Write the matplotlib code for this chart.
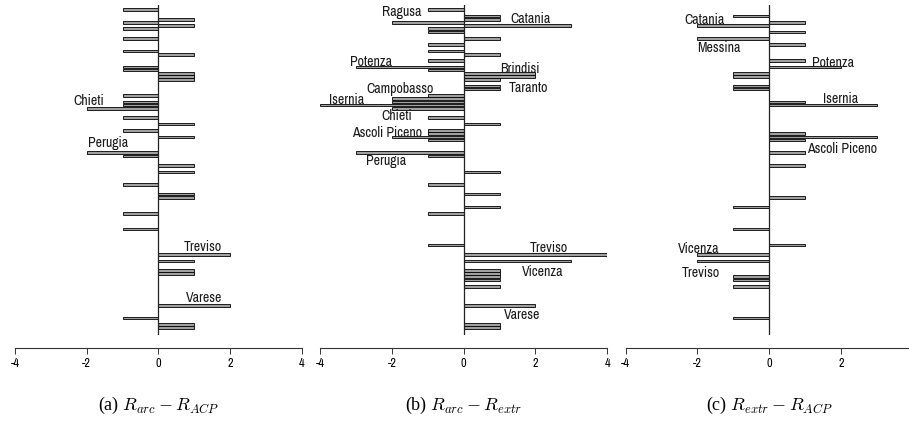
import matplotlib
matplotlib.use('Agg')
import matplotlib.pyplot as plt
from matplotlib import font_manager
from matplotlib.textpath import TextToPath
import numpy as np

# Rank class differences per province (same province order in every panel, top to bottom)
diff_arc_acp = [
    0, -1, 0, 0, 1, -1, 1, -1, 0, 0,
    -1, 0, 0, 0, -1, 1, 0, 0, 0, -1,
    -1, 1, 1, 1, 0, 0, 0, 0, -1, 0,
    -1, -1, -2, 0, 0, -1, 0, 1, 0, -1,
    0, 1, 0, 0, 0, 0, -2, -1, 0, 0,
    1, 0, 1, 0, 0, 0, -1, 0, 0, 1,
    1, 0, 0, 0, 0, -1, 0, 0, 0, 0,
    -1, 0, 0, 0, 0, 0, 0, 0, 2, 0,
    1, 0, 0, 1, 1, 0, 0, 0, 0, 0,
    0, 0, 0, 0, 2, 0, 0, 0, -1, 0,
    1, 1, 0,
]
diff_arc_extr = [
    0, -1, 0, 1, 1, -2, 3, -1, -1, 0,
    1, 0, -1, 0, -1, 1, 0, -1, 0, -3,
    -1, 2, 2, 1, 0, 1, 1, 0, -1, -2,
    -2, -4, -2, 0, 0, -1, 0, 1, 0, -1,
    -1, -2, -1, 0, 0, 0, -3, -1, 0, 0,
    0, 0, 1, 0, 0, 0, -1, 0, 0, 1,
    0, 0, 0, 1, 0, -1, 0, 0, 0, 0,
    0, 0, 0, 0, 0, -1, 0, 0, 4, 0,
    3, 0, 0, 1, 1, 1, 1, 0, 1, 0,
    0, 0, 0, 0, 2, 0, 0, 0, 0, 0,
    1, 1, 0,
]
diff_extr_acp = [
    0, 0, 0, -1, 0, 1, -2, 0, 1, 0,
    -2, 0, 1, 0, 0, 0, 0, 1, 0, 2,
    0, -1, -1, 0, 0, -1, -1, 0, 0, 0,
    1, 3, 0, 0, 0, 0, 0, 0, 0, 0,
    1, 3, 1, 0, 0, 0, 1, 0, 0, 0,
    1, 0, 0, 0, 0, 0, 0, 0, 0, 0,
    1, 0, 0, -1, 0, 0, 0, 0, 0, 0,
    -1, 0, 0, 0, 0, 1, 0, 0, -2, 0,
    -2, 0, 0, 0, 0, -1, -1, 0, -1, 0,
    0, 0, 0, 0, 0, 0, 0, 0, -1, 0,
    0, 0, 0,
]

captions = [
    r'(a) $R_{arc} - R_{ACP}$',
    r'(b) $R_{arc} - R_{extr}$',
    r'(c) $R_{extr} - R_{ACP}$',
]
tick_values = [-4, -2, 0, 2, 4]
tick_labels = ['-4', '-2', '0', '2', '4']

# Province name annotations: (name, x in rank units, baseline in bar slots, alignment)
labels_a = [
    ('Chieti', -1.51, 31.0, 'right'),
    ('Perugia', -1.97, 44.3, 'left'),
    ('Treviso', 1.77, 76.9, 'right'),
    ('Varese', 1.79, 93.0, 'right'),
]
labels_b = [
    ('Ragusa', -1.17, 3.1, 'right'),
    ('Catania', 2.42, 5.2, 'right'),
    ('Potenza', -2.0, 18.6, 'right'),
    ('Brindisi', 2.11, 20.8, 'right'),
    ('Taranto', 2.36, 26.8, 'right'),
    ('Campobasso', -0.85, 27.2, 'right'),
    ('Isernia', -3.77, 30.7, 'left'),
    ('Chieti', -1.45, 35.7, 'right'),
    ('Ascoli Piceno', -1.17, 41.0, 'right'),
    ('Perugia', -2.73, 49.8, 'left'),
    ('Treviso', 2.90, 77.1, 'right'),
    ('Vicenza', 2.79, 84.7, 'right'),
    ('Varese', 2.13, 98.4, 'right'),
]
labels_c = [
    ('Catania', -1.24, 5.5, 'right'),
    ('Messina', -2.01, 14.2, 'left'),
    ('Potenza', 1.19, 18.9, 'left'),
    ('Isernia', 2.47, 30.3, 'right'),
    ('Ascoli Piceno', 1.05, 46.2, 'left'),
    ('Vicenza', -1.39, 77.4, 'right'),
    ('Treviso', -1.36, 85.2, 'right'),
]

FIG_W, FIG_H = 909, 432
BAR_FILL = '#a0a0a0'

plt.rcParams['mathtext.fontset'] = 'cm'


def pick_narrow_font():
    """Find a narrow/condensed upright sans face, else plain Liberation Sans."""
    best, best_score = None, 0
    for f in font_manager.fontManager.ttflist:
        name = f.name.lower()
        fname = f.fname.lower()
        if f.style != 'normal' or 'mono' in name or 'serif' in name.replace('sans', ''):
            continue
        if str(f.weight) not in ('400', 'normal', 'regular', 'book'):
            continue
        if any(k in fname for k in ('bold', 'italic', 'light', 'medium', 'thin', 'black')):
            continue
        score = 0
        if 'narrow' in name or 'narrow' in fname:
            score = 4
        elif 'condensed' in name or 'condensed' in fname or f.stretch in ('condensed', 'semi-condensed'):
            score = 2
        if 'semicondensed' in fname or 'semi' in str(f.stretch):
            score -= 1
        if score > 0 and ('liberation' in name or 'roboto' in name):
            score += 1
        if score > best_score:
            best, best_score = f.fname, score
    if best is None:
        return font_manager.FontProperties(family='Liberation Sans')
    return font_manager.FontProperties(fname=best)


def fit_size(prop, text, width_px, base=10.0):
    """Font size that gives the text roughly the wanted pixel width."""
    p = prop.copy()
    p.set_size(base)
    w, _, _ = TextToPath().get_text_width_height_descent(text, p, ismath=False)
    return base * width_px / (w * 100 / 72)


LABEL_PROP = pick_narrow_font()
LABEL_SIZE = min(11.0, fit_size(LABEL_PROP, 'Treviso', 38))


def draw_panel(fig, left_px, values, labels, caption, ticks, tick_text):
    """One horizontal bar panel with its own x axis and caption."""
    unit_px = 35.86
    top_px, bottom_px = 5, 335
    rect = [left_px / FIG_W, 1 - bottom_px / FIG_H,
            8 * unit_px / FIG_W, (bottom_px - top_px) / FIG_H]
    ax = fig.add_axes(rect)

    vals = np.array(values, dtype=float)
    slots = np.arange(len(vals))
    nz = vals != 0
    ax.barh(slots[nz], vals[nz], height=0.83, color=BAR_FILL,
            edgecolor='black', linewidth=0.6)
    ax.axvline(0, color='#222222', linewidth=0.9)

    # slot i sits at 6.5 + 3.18 * i pixels from the top
    ax.set_ylim((bottom_px - 6.5) / 3.18, (top_px - 6.5) / 3.18)
    ax.set_xlim(-4, 4)

    for side in ['top', 'right', 'left']:
        ax.spines[side].set_visible(False)
    ax.spines['bottom'].set_position(('outward', 9.5))
    ax.spines['bottom'].set_bounds(-4, 4)
    ax.spines['bottom'].set_linewidth(0.8)
    ax.spines['bottom'].set_color('#333333')
    ax.set_yticks([])
    ax.set_xticks(ticks)
    ax.set_xticklabels(tick_text)
    tick_prop = LABEL_PROP.copy()
    tick_prop.set_size(LABEL_SIZE * 0.88)
    for lab in ax.get_xticklabels():
        lab.set_fontproperties(tick_prop)
    ax.tick_params(axis='x', direction='out', length=4.5, width=0.7,
                   pad=2.5, color='#333333')

    text_prop = LABEL_PROP.copy()
    text_prop.set_size(LABEL_SIZE)
    for name, x, y, ha in labels:
        ax.text(x, y, name, ha=ha, va='baseline', fontproperties=text_prop,
                color='#1a1a1a')

    zero_px = left_px + 4 * unit_px
    fig.text(zero_px / FIG_W, 1 - 405 / FIG_H, caption, ha='center',
             va='center', fontsize=13, family='Liberation Serif')
    return ax


def main():
    fig = plt.figure(figsize=(FIG_W / 100, FIG_H / 100), dpi=100)
    draw_panel(fig, 15.0, diff_arc_acp, labels_a, captions[0],
               tick_values, tick_labels)
    draw_panel(fig, 320.3, diff_arc_extr, labels_b, captions[1],
               tick_values, tick_labels)
    # the last panel runs off the right edge, so its "4" tick is left out
    draw_panel(fig, 625.7, diff_extr_acp, labels_c, captions[2],
               tick_values[:-1], tick_labels[:-1])
    fig.savefig('out.png', dpi=100)
    plt.close(fig)


if __name__ == '__main__':
    main()
